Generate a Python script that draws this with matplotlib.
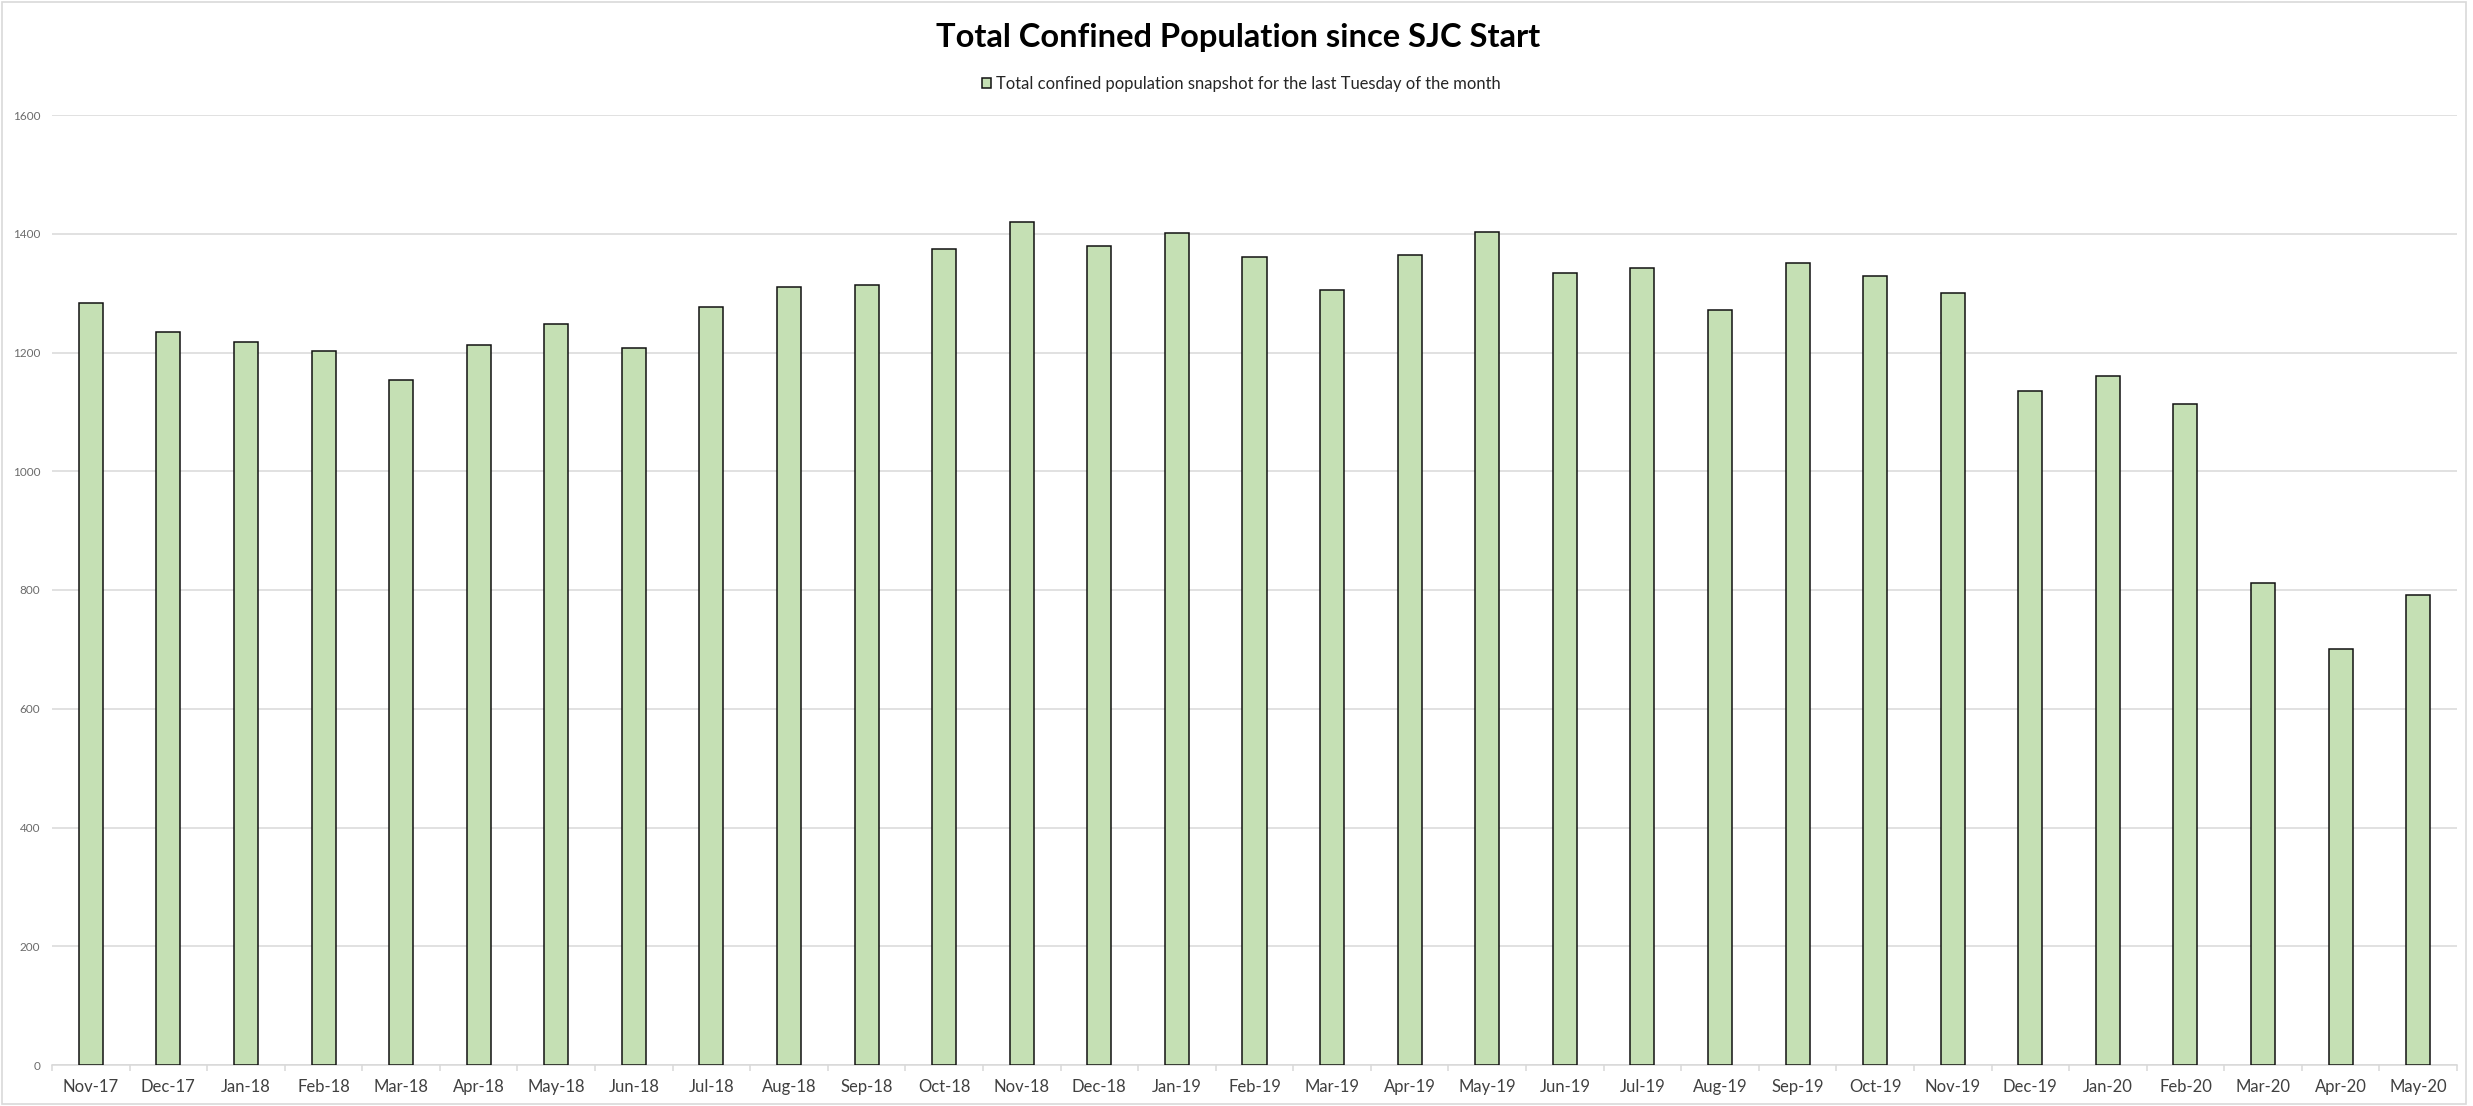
import numpy as np
import matplotlib.pyplot as plt
from matplotlib.patches import Rectangle
from matplotlib.ticker import MultipleLocator, FixedLocator

plt.rcParams['font.family'] = ['Lato', 'DejaVu Sans']

# monthly snapshot, last Tuesday of each month
months = ['Nov-17', 'Dec-17', 'Jan-18', 'Feb-18', 'Mar-18', 'Apr-18', 'May-18',
          'Jun-18', 'Jul-18', 'Aug-18', 'Sep-18', 'Oct-18', 'Nov-18', 'Dec-18',
          'Jan-19', 'Feb-19', 'Mar-19', 'Apr-19', 'May-19', 'Jun-19', 'Jul-19',
          'Aug-19', 'Sep-19', 'Oct-19', 'Nov-19', 'Dec-19', 'Jan-20', 'Feb-20',
          'Mar-20', 'Apr-20', 'May-20']
population = [1284, 1235, 1218, 1203, 1154, 1213, 1248,
              1207, 1276, 1310, 1313, 1374, 1419, 1380,
              1401, 1361, 1306, 1364, 1403, 1334, 1343,
              1272, 1351, 1329, 1301, 1136, 1160, 1113,
              812, 700, 792]
series_name = 'Total confined population snapshot for the last Tuesday of the month'
title = 'Total Confined Population since SJC Start'

W, H = 2473, 1106
fig = plt.figure(figsize=(W / 100, H / 100), dpi=100)
ax = fig.add_axes([52 / W, 1 - 1065 / H, (2457 - 52) / W, (1065 - 115) / H])

x = np.arange(len(months))
ax.bar(x, population, width=0.31, color='#C5E0B4', edgecolor='#111111',
       linewidth=1.1, zorder=3, label=series_name)

ax.set_xlim(-0.5, len(months) - 0.5)
ax.set_ylim(0, 1600)
ax.yaxis.set_major_locator(MultipleLocator(200))
ax.grid(axis='y', color='#d9d9d9', linewidth=1.1, zorder=0)

for s in ['top', 'right', 'left']:
    ax.spines[s].set_visible(False)
ax.spines['bottom'].set_color('#d9d9d9')
ax.spines['bottom'].set_linewidth(1.1)

ax.set_xticks(x)
ax.set_xticklabels(months)
ax.xaxis.set_minor_locator(FixedLocator(np.arange(len(months) + 1) - 0.5))
ax.tick_params(axis='x', which='major', length=0, pad=10,
               labelsize=12, labelcolor='#404040')
ax.tick_params(axis='x', which='minor', length=4, width=1.1, color='#d9d9d9')
ax.tick_params(axis='y', length=0, pad=8.5, labelsize=8.5, labelcolor='#6b6b6b')

fig.text(0.5006, 1 - 47 / H, title, ha='center', va='baseline',
         fontsize=23.5, fontweight='bold', color='black')

fig.legend(loc='center', bbox_to_anchor=(0.5018, 1 - 84 / H), frameon=False,
           fontsize=11.9, handlelength=0.55, handleheight=0.55, handletextpad=0.3,
           labelcolor='#262626')

# light chart-area border
fig.patches.append(Rectangle((2 / W, 2 / H), (2466 - 2) / W, (H - 4) / H,
                             transform=fig.transFigure, fill=False,
                             edgecolor='#d9d9d9', linewidth=1.2))

fig.savefig('out.png', dpi=100)
